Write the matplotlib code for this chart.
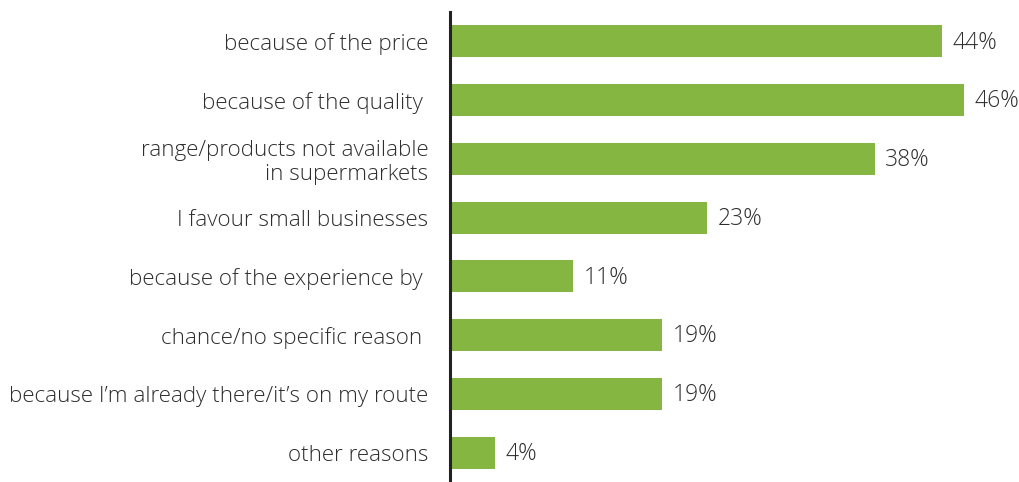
import matplotlib
matplotlib.use("Agg")
import matplotlib.pyplot as plt

categories = [
    "because of the price",
    "because of the quality ",
    "range/products not available\nin supermarkets",
    "I favour small businesses",
    "because of the experience by ",
    "chance/no specific reason ",
    "because I\u2019m already there/it\u2019s on my route",
    "other reasons",
]
values = [44, 46, 38, 23, 11, 19, 19, 4]
value_labels = ["44%", "46%", "38%", "23%", "11%", "19%", "19%", "4%"]

plt.rcParams['font.family'] = ['Open Sans', 'DejaVu Sans']

fig = plt.figure(figsize=(10.19, 4.82), dpi=100)
ax = fig.add_axes([450 / 1019, 0, 1 - 450 / 1019, 470 / 482])

y = list(range(len(categories)))
ax.barh(y, values, height=0.545, color="#84b641", zorder=2)

ax.set_ylim(len(categories) - 0.5, -0.5)
ax.set_xlim(0, 50.9)

for yi, v, lab in zip(y, values, value_labels):
    ax.text(v + 0.95, yi + 0.02, lab, va="center", ha="left", fontsize=16.5,
            fontweight="light", color="#2e2e2e")

ax.set_yticks(y)
ax.set_yticklabels(categories, fontsize=16.1, fontweight="light", color="#2e2e2e",
                   linespacing=1.18)
ax.tick_params(axis="y", length=0, pad=15.5)
ax.set_xticks([])

for s in ["top", "right", "bottom"]:
    ax.spines[s].set_visible(False)
ax.spines["left"].set_linewidth(2.2)
ax.spines["left"].set_color("#222222")

fig.savefig("out.png", dpi=100)
